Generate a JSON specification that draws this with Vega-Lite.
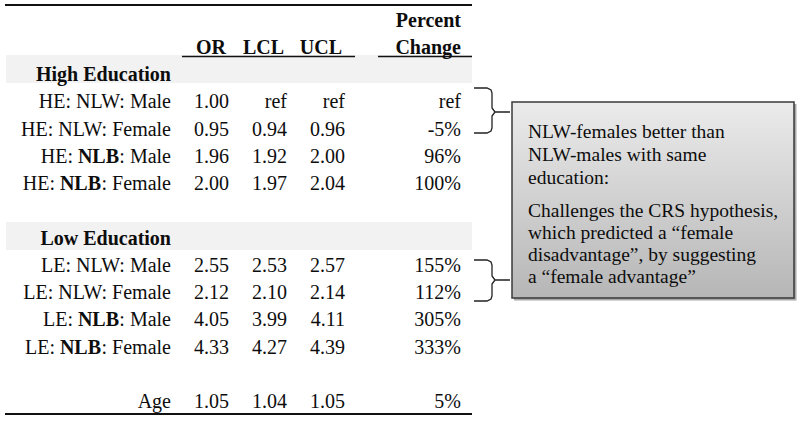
{
  "$schema": "https://vega.github.io/schema/vega-lite/v6.json",
  "width": 800,
  "height": 421,
  "autosize": {"type": "none"},
  "padding": 0,
  "background": "white",
  "config": {
    "view": {"stroke": null},
    "text": {"font": "Liberation Serif", "fontSize": 20, "baseline": "alphabetic", "color": "#0d0d0d"}
  },
  "datasets": {
    "table": [
      {"row": 3, "sex": "Male", "pre": "", "mid": "", "post": "HE: NLW: Male", "OR": "1.00", "LCL": "ref", "UCL": "ref", "PC": "ref"},
      {"row": 4, "sex": "Female", "pre": "", "mid": "", "post": "HE: NLW: Female", "OR": "0.95", "LCL": "0.94", "UCL": "0.96", "PC": "-5%"},
      {"row": 5, "sex": "Male", "pre": "HE:", "mid": "NLB", "post": ": Male", "OR": "1.96", "LCL": "1.92", "UCL": "2.00", "PC": "96%"},
      {"row": 6, "sex": "Female", "pre": "HE:", "mid": "NLB", "post": ": Female", "OR": "2.00", "LCL": "1.97", "UCL": "2.04", "PC": "100%"},
      {"row": 9, "sex": "Male", "pre": "", "mid": "", "post": "LE: NLW: Male", "OR": "2.55", "LCL": "2.53", "UCL": "2.57", "PC": "155%"},
      {"row": 10, "sex": "Female", "pre": "", "mid": "", "post": "LE: NLW: Female", "OR": "2.12", "LCL": "2.10", "UCL": "2.14", "PC": "112%"},
      {"row": 11, "sex": "Male", "pre": "LE:", "mid": "NLB", "post": ": Male", "OR": "4.05", "LCL": "3.99", "UCL": "4.11", "PC": "305%"},
      {"row": 12, "sex": "Female", "pre": "LE:", "mid": "NLB", "post": ": Female", "OR": "4.33", "LCL": "4.27", "UCL": "4.39", "PC": "333%"},
      {"row": 14, "sex": "", "pre": "", "mid": "", "post": "Age", "OR": "1.05", "LCL": "1.04", "UCL": "1.05", "PC": "5%"}
    ],
    "headings": [
      {"row": 0, "col": "PC", "text": "Percent"},
      {"row": 1, "col": "PC", "text": "Change"},
      {"row": 2, "col": "label", "text": "High Education"},
      {"row": 8, "col": "label", "text": "Low Education"}
    ],
    "colHeads": [
      {"row": 1, "col": "OR", "text": "OR"},
      {"row": 1, "col": "LCL", "text": "LCL"},
      {"row": 1, "col": "UCL", "text": "UCL"}
    ],
    "bands": [
      {"x": 6, "x2": 472, "y": 55, "y2": 83},
      {"x": 6, "x2": 472, "y": 222, "y2": 250}
    ],
    "frameRules": [
      {"x": 5, "x2": 472, "y": 5},
      {"x": 5, "x2": 472, "y": 414}
    ],
    "headRules": [
      {"x": 182, "x2": 355, "y": 56.5},
      {"x": 378, "x2": 472, "y": 56.5}
    ],
    "box": [{"x": 512, "x2": 794, "y": 102, "y2": 298}],
    "shadow": [{"x": 514, "x2": 796.5, "y": 104, "y2": 300.5}],
    "braces": [
      {"id": 1, "seq": 1, "x": 474, "y": 88},
      {"id": 1, "seq": 2, "x": 487, "y": 88},
      {"id": 1, "seq": 3, "x": 491, "y": 90},
      {"id": 1, "seq": 4, "x": 492, "y": 93},
      {"id": 1, "seq": 5, "x": 492, "y": 108},
      {"id": 1, "seq": 6, "x": 495, "y": 112},
      {"id": 1, "seq": 7, "x": 510, "y": 112},
      {"id": 1, "seq": 8, "x": 495, "y": 112},
      {"id": 1, "seq": 9, "x": 492, "y": 116},
      {"id": 1, "seq": 10, "x": 492, "y": 128},
      {"id": 1, "seq": 11, "x": 491, "y": 131},
      {"id": 1, "seq": 12, "x": 487, "y": 133},
      {"id": 1, "seq": 13, "x": 474, "y": 133},
      {"id": 2, "seq": 1, "x": 474, "y": 260},
      {"id": 2, "seq": 2, "x": 487, "y": 260},
      {"id": 2, "seq": 3, "x": 491, "y": 262},
      {"id": 2, "seq": 4, "x": 492, "y": 265},
      {"id": 2, "seq": 5, "x": 492, "y": 276},
      {"id": 2, "seq": 6, "x": 495, "y": 280},
      {"id": 2, "seq": 7, "x": 510, "y": 280},
      {"id": 2, "seq": 8, "x": 495, "y": 280},
      {"id": 2, "seq": 9, "x": 492, "y": 284},
      {"id": 2, "seq": 10, "x": 492, "y": 296},
      {"id": 2, "seq": 11, "x": 491, "y": 299},
      {"id": 2, "seq": 12, "x": 487, "y": 301},
      {"id": 2, "seq": 13, "x": 474, "y": 301}
    ],
    "note": [
      {"x": 528, "y": 138, "text": "NLW-females better than"},
      {"x": 528, "y": 161, "text": "NLW-males with same"},
      {"x": 528, "y": 184, "text": "education:"},
      {"x": 528, "y": 217, "text": "Challenges the CRS hypothesis,"},
      {"x": 528, "y": 239, "text": "which predicted a “female"},
      {"x": 528, "y": 261, "text": "disadvantage”, by suggesting"},
      {"x": 528, "y": 283, "text": "a “female advantage”"}
    ]
  },
  "resolve": {"scale": {"x": "independent", "y": "independent"}},
  "layer": [
    {
      "data": {"name": "bands"},
      "mark": {"type": "rect", "fill": "#f2f2f2"},
      "encoding": {
        "x": {"field": "x", "type": "quantitative", "scale": {"domain": [0, 800], "nice": false, "zero": false}, "axis": null},
        "x2": {"field": "x2"},
        "y": {"field": "y", "type": "quantitative", "scale": {"domain": [0, 421], "reverse": true, "nice": false, "zero": false}, "axis": null},
        "y2": {"field": "y2"}
      }
    },
    {
      "data": {"name": "frameRules"},
      "mark": {"type": "rule", "stroke": "#111111", "strokeWidth": 2},
      "encoding": {
        "x": {"field": "x", "type": "quantitative", "scale": {"domain": [0, 800], "nice": false, "zero": false}, "axis": null},
        "x2": {"field": "x2"},
        "y": {"field": "y", "type": "quantitative", "scale": {"domain": [0, 421], "reverse": true, "nice": false, "zero": false}, "axis": null}
      }
    },
    {
      "data": {"name": "headRules"},
      "mark": {"type": "rule", "stroke": "#111111", "strokeWidth": 1.3},
      "encoding": {
        "x": {"field": "x", "type": "quantitative", "scale": {"domain": [0, 800], "nice": false, "zero": false}, "axis": null},
        "x2": {"field": "x2"},
        "y": {"field": "y", "type": "quantitative", "scale": {"domain": [0, 421], "reverse": true, "nice": false, "zero": false}, "axis": null}
      }
    },
    {
      "data": {"name": "shadow"},
      "mark": {"type": "rect", "fill": "#6f6f6f", "opacity": 0.6},
      "encoding": {
        "x": {"field": "x", "type": "quantitative", "scale": {"domain": [0, 800], "nice": false, "zero": false}, "axis": null},
        "x2": {"field": "x2"},
        "y": {"field": "y", "type": "quantitative", "scale": {"domain": [0, 421], "reverse": true, "nice": false, "zero": false}, "axis": null},
        "y2": {"field": "y2"}
      }
    },
    {
      "data": {"name": "box"},
      "mark": {
        "type": "rect",
        "stroke": "#3a3a3a",
        "strokeWidth": 1.5,
        "fill": {"gradient": "linear", "x1": 0, "y1": 0, "x2": 0, "y2": 1, "stops": [{"offset": 0, "color": "#ebebeb"}, {"offset": 1, "color": "#b6b6b6"}]}
      },
      "encoding": {
        "x": {"field": "x", "type": "quantitative", "scale": {"domain": [0, 800], "nice": false, "zero": false}, "axis": null},
        "x2": {"field": "x2"},
        "y": {"field": "y", "type": "quantitative", "scale": {"domain": [0, 421], "reverse": true, "nice": false, "zero": false}, "axis": null},
        "y2": {"field": "y2"}
      }
    },
    {
      "data": {"name": "braces"},
      "mark": {"type": "line", "stroke": "#222222", "strokeWidth": 1.3, "interpolate": "linear"},
      "encoding": {
        "x": {"field": "x", "type": "quantitative", "scale": {"domain": [0, 800], "nice": false, "zero": false}, "axis": null},
        "y": {"field": "y", "type": "quantitative", "scale": {"domain": [0, 421], "reverse": true, "nice": false, "zero": false}, "axis": null},
        "detail": {"field": "id", "type": "nominal"},
        "order": {"field": "seq", "type": "quantitative"}
      }
    },
    {
      "data": {"name": "note"},
      "mark": {"type": "text", "align": "left", "fontSize": 19.5},
      "encoding": {
        "x": {"field": "x", "type": "quantitative", "scale": {"domain": [0, 800], "nice": false, "zero": false}, "axis": null},
        "y": {"field": "y", "type": "quantitative", "scale": {"domain": [0, 421], "reverse": true, "nice": false, "zero": false}, "axis": null},
        "text": {"field": "text"}
      }
    },
    {
      "data": {"name": "headings"},
      "mark": {"type": "text", "align": "right", "fontWeight": "bold"},
      "encoding": {
        "x": {"field": "col", "type": "nominal", "scale": {"type": "point", "domain": ["label", "OR", "LCL", "UCL", "gap", "PC"], "range": [171, 461], "padding": 0}, "axis": null},
        "y": {"field": "row", "type": "quantitative", "scale": {"domain": [-0.9725, 14.477], "reverse": true, "nice": false, "zero": false}, "axis": null},
        "text": {"field": "text"}
      }
    },
    {
      "data": {"name": "colHeads"},
      "mark": {"type": "text", "align": "right", "fontWeight": "bold", "dx": -3},
      "encoding": {
        "x": {"field": "col", "type": "nominal", "scale": {"type": "point", "domain": ["label", "OR", "LCL", "UCL", "gap", "PC"], "range": [171, 461], "padding": 0}, "axis": null},
        "y": {"field": "row", "type": "quantitative", "scale": {"domain": [-0.9725, 14.477], "reverse": true, "nice": false, "zero": false}, "axis": null},
        "text": {"field": "text"}
      }
    },
    {
      "data": {"name": "table"},
      "transform": [
        {"fold": ["OR", "LCL", "UCL", "PC"], "as": ["col", "val"]}
      ],
      "mark": {"type": "text", "align": "right"},
      "encoding": {
        "x": {"field": "col", "type": "nominal", "scale": {"type": "point", "domain": ["label", "OR", "LCL", "UCL", "gap", "PC"], "range": [171, 461], "padding": 0}, "axis": null},
        "y": {"field": "row", "type": "quantitative", "scale": {"domain": [-0.9725, 14.477], "reverse": true, "nice": false, "zero": false}, "axis": null},
        "text": {"field": "val"}
      }
    },
    {
      "data": {"name": "table"},
      "mark": {"type": "text", "align": "right"},
      "encoding": {
        "x": {"datum": "label", "type": "nominal", "scale": {"type": "point", "domain": ["label", "OR", "LCL", "UCL", "gap", "PC"], "range": [171, 461], "padding": 0}, "axis": null},
        "y": {"field": "row", "type": "quantitative", "scale": {"domain": [-0.9725, 14.477], "reverse": true, "nice": false, "zero": false}, "axis": null},
        "text": {"field": "post"}
      }
    },
    {
      "data": {"name": "table"},
      "transform": [{"filter": "datum.mid != '' && datum.sex == 'Male'"}],
      "mark": {"type": "text", "align": "right", "fontWeight": "bold", "dx": -52},
      "encoding": {
        "x": {"datum": "label", "type": "nominal", "scale": {"type": "point", "domain": ["label", "OR", "LCL", "UCL", "gap", "PC"], "range": [171, 461], "padding": 0}, "axis": null},
        "y": {"field": "row", "type": "quantitative", "scale": {"domain": [-0.9725, 14.477], "reverse": true, "nice": false, "zero": false}, "axis": null},
        "text": {"field": "mid"}
      }
    },
    {
      "data": {"name": "table"},
      "transform": [{"filter": "datum.mid != '' && datum.sex == 'Female'"}],
      "mark": {"type": "text", "align": "right", "fontWeight": "bold", "dx": -70},
      "encoding": {
        "x": {"datum": "label", "type": "nominal", "scale": {"type": "point", "domain": ["label", "OR", "LCL", "UCL", "gap", "PC"], "range": [171, 461], "padding": 0}, "axis": null},
        "y": {"field": "row", "type": "quantitative", "scale": {"domain": [-0.9725, 14.477], "reverse": true, "nice": false, "zero": false}, "axis": null},
        "text": {"field": "mid"}
      }
    },
    {
      "data": {"name": "table"},
      "transform": [{"filter": "datum.pre != '' && datum.sex == 'Male'"}],
      "mark": {"type": "text", "align": "right", "dx": -98},
      "encoding": {
        "x": {"datum": "label", "type": "nominal", "scale": {"type": "point", "domain": ["label", "OR", "LCL", "UCL", "gap", "PC"], "range": [171, 461], "padding": 0}, "axis": null},
        "y": {"field": "row", "type": "quantitative", "scale": {"domain": [-0.9725, 14.477], "reverse": true, "nice": false, "zero": false}, "axis": null},
        "text": {"field": "pre"}
      }
    },
    {
      "data": {"name": "table"},
      "transform": [{"filter": "datum.pre != '' && datum.sex == 'Female'"}],
      "mark": {"type": "text", "align": "right", "dx": -116},
      "encoding": {
        "x": {"datum": "label", "type": "nominal", "scale": {"type": "point", "domain": ["label", "OR", "LCL", "UCL", "gap", "PC"], "range": [171, 461], "padding": 0}, "axis": null},
        "y": {"field": "row", "type": "quantitative", "scale": {"domain": [-0.9725, 14.477], "reverse": true, "nice": false, "zero": false}, "axis": null},
        "text": {"field": "pre"}
      }
    }
  ]
}
